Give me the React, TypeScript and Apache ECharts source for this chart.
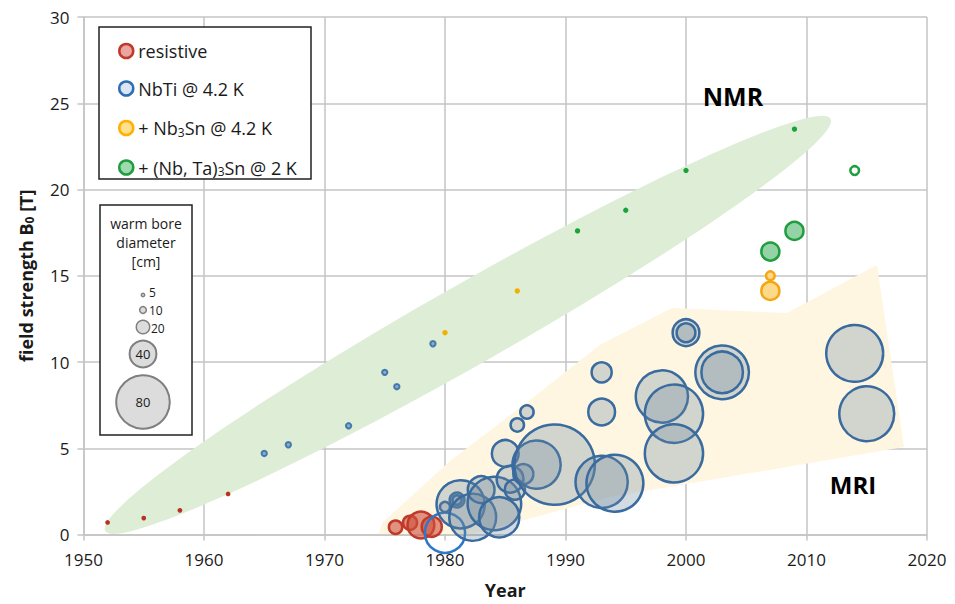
import React, { useEffect, useRef } from "react";
import * as echarts from "echarts";

// [year, field strength B0 (T), warm bore diameter (cm)]
const resistiveNmr = [[1952, 0.7, 7], [1955, 0.95, 7], [1958, 1.4, 7], [1962, 2.35, 7]];
const resistiveMri = [[1975.9, 0.42, 20], [1977.1, 0.68, 21], [1978.0, 0.55, 40], [1978.9, 0.45, 30]];
const nbtiNmr = [[1965, 4.7, 8], [1967, 5.2, 8], [1972, 6.3, 8], [1975, 9.4, 8], [1976, 8.57, 8], [1979, 11.06, 8]];
const nbtiMri = [
  [1980.0, 1.6, 15], [1981.0, 2.0, 22], [1981.0, 2.0, 14], [1981.3, 1.75, 72], [1982.3, 1.0, 70],
  [1983.0, 2.6, 40], [1984.1, 1.8, 80], [1984.5, 1.0, 60], [1985.0, 4.7, 40], [1985.4, 3.2, 40],
  [1985.8, 2.6, 30], [1986.0, 6.35, 20], [1986.8, 7.1, 20], [1986.5, 3.5, 30], [1987.6, 4.05, 72],
  [1989.1, 4.05, 120], [1993.0, 9.4, 30], [1993.0, 7.1, 40], [1993.0, 3.05, 78], [1994.1, 2.97, 85],
  [1998.0, 8.0, 78], [1999.0, 7.0, 87], [1999.0, 4.7, 87], [2000.0, 11.7, 40], [2000.0, 11.7, 28],
  [2003.0, 9.4, 80], [2003.0, 9.4, 62], [2014.0, 10.5, 85], [2015.0, 7.0, 82],
];
const nbtiRing = [[1980.0, 0.1, 60]];
const nb3snNmr = [[1980, 11.7, 8], [1986, 14.12, 8]];
const nb3snMri = [[2007, 15.0, 13], [2007, 14.12, 27]];
const ntsNmr = [[1991, 17.6, 8], [1995, 18.8, 8], [2000, 21.1, 8], [2009, 23.5, 8]];
const ntsOpen = [[2014, 21.1, 13]];
const ntsMri = [[2007, 16.4, 27], [2009, 17.6, 27]];

const seriesNames = ["resistive", "NbTi @ 4.2 K", "+ Nb3Sn @ 4.2 K", "+ (Nb, Ta)3Sn @ 2 K"];
const legendLabels = ["resistive", "NbTi @ 4.2 K", "+ Nb{s|3}Sn @ 4.2 K", "+ (Nb, Ta){s|3}Sn @ 2 K"];
const boreLegend = [5, 10, 20, 40, 80];
const xTicks = { min: 1950, max: 2020, interval: 10 };
const yTicks = { min: 0, max: 30, interval: 5 };

// background regions (data coordinates)
const nmrBandEnds = [[1951.8, 0.2], [2012.0, 24.1]];
const mriBand = [
  [1974.44, 0], [1974.85, 0.72], [1980.42, 4.26], [1987.05, 7.8], [1992.86, 11.0], [1998.83, 13.13],
  [2008.38, 12.84], [2015.85, 15.62], [2018.09, 5.07], [1993.69, 2.17], [1982.07, 0],
];

const PX_PER_CM = 0.67;
const FONT = "'Open Sans', 'Noto Sans', sans-serif";

const RED = "#b9321f";
const BLUE = "#3a6b9f";
const ORANGE = "#f3a712";
const GREEN = "#1f9d3f";

export default function App() {
  const ref = useRef<HTMLDivElement>(null);
  useEffect(() => {
    if (!ref.current) return;
    const chart = echarts.init(ref.current, undefined, { renderer: "svg" });
    const sizeFn = (v: number[]) => v[2] * PX_PER_CM;

    const dots = (name: string, data: number[][], color: string, z = 5) => ({
      type: "scatter", name, data, symbolSize: sizeFn, z,
      itemStyle: { color, opacity: 1 },
    });
    const bubbles = (name: string, data: number[][], fill: string, stroke: string, bw = 2.5, z = 3) => ({
      type: "scatter", name, data, symbolSize: sizeFn, z,
      itemStyle: { color: fill, borderColor: stroke, borderWidth: bw, opacity: 1 },
    });

    const gridLine = { color: "#c4c4c4", width: 1.5 };
    const boreY = [295, 310, 327, 354, 402];
    const boreLabelY = [292.5, 310.5, 328, 354, 402];
    const boreLabelX = [149, 149, 151];

    const option: any = {
      animation: false,
      grid: { left: 83.5, top: 17, right: 28, bottom: 69.5 },
      xAxis: {
        type: "value", ...xTicks,
        name: "Year", nameLocation: "middle", nameGap: 46,
        nameTextStyle: { fontFamily: FONT, fontSize: 18, fontWeight: "bold", color: "#1a1a1a" },
        axisLine: { show: true, lineStyle: gridLine },
        axisTick: { show: true, length: 6, lineStyle: gridLine },
        splitLine: { show: true, lineStyle: gridLine },
        axisLabel: { fontFamily: FONT, fontSize: 17, color: "#1a1a1a", margin: 16, formatter: (v: number) => String(v) },
      },
      yAxis: {
        type: "value", ...yTicks,
        name: "{a|field strength B}{s|0}{a| [T]}", nameLocation: "middle", nameGap: 48,
        nameTextStyle: {
          fontFamily: FONT, fontSize: 18, fontWeight: "bold", color: "#1a1a1a",
          rich: {
            a: { fontFamily: FONT, fontSize: 18, fontWeight: "bold", color: "#1a1a1a" },
            s: { fontFamily: FONT, fontSize: 12, fontWeight: "bold", color: "#1a1a1a", verticalAlign: "bottom", padding: [8, 0, 0, 0] },
          },
        },
        axisLine: { show: true, lineStyle: gridLine },
        axisTick: { show: true, length: 6, lineStyle: gridLine },
        splitLine: { show: true, lineStyle: gridLine },
        axisLabel: { fontFamily: FONT, fontSize: 17, color: "#1a1a1a", margin: 14 },
      },
      legend: {
        left: 113, top: 36, orient: "vertical", itemGap: 17.5, z: 30,
        itemWidth: 14, itemHeight: 14, icon: "circle",
        formatter: (n: string) => legendLabels[seriesNames.indexOf(n)],
        textStyle: {
          fontFamily: FONT, fontSize: 18, color: "#1a1a1a", lineHeight: 20,
          rich: {
            s: { fontFamily: FONT, fontSize: 12, color: "#1a1a1a", verticalAlign: "bottom", lineHeight: 12, padding: [10, 0, 0, 0] },
          },
        },
        data: [
          { name: seriesNames[0], itemStyle: { color: "#e9a6a0", borderColor: "#c0392b", borderWidth: 2.5 } },
          { name: seriesNames[1], itemStyle: { color: "#dbe6f2", borderColor: "#2f6db5", borderWidth: 2.5 } },
          { name: seriesNames[2], itemStyle: { color: "#ffe08f", borderColor: "#ffb000", borderWidth: 2.5 } },
          { name: seriesNames[3], itemStyle: { color: "#9fd9b0", borderColor: "#1f9d3f", borderWidth: 2.5 } },
        ],
      },
      series: [
        {
          type: "custom", coordinateSystem: "cartesian2d", z: 0, silent: true,
          data: [[1990, 10]],
          renderItem: (_p: any, api: any) => {
            const p1 = api.coord(nmrBandEnds[0]);
            const p2 = api.coord(nmrBandEnds[1]);
            const cx = (p1[0] + p2[0]) / 2, cy = (p1[1] + p2[1]) / 2;
            const dx = p2[0] - p1[0], dy = p2[1] - p1[1];
            const a = Math.hypot(dx, dy) / 2, b = 40, ang = Math.atan2(dy, dx);
            const pts: number[][] = [];
            for (let i = 0; i < 120; i++) {
              const t = (2 * Math.PI * i) / 120;
              const ex = a * Math.cos(t), ey = b * Math.sin(t);
              pts.push([cx + ex * Math.cos(ang) - ey * Math.sin(ang), cy + ex * Math.sin(ang) + ey * Math.cos(ang)]);
            }
            const yellow = mriBand.map((p) => api.coord(p));
            return {
              type: "group",
              children: [
                { type: "polygon", shape: { points: pts }, style: { fill: "#deedd6" } },
                { type: "polygon", shape: { points: yellow }, style: { fill: "#fef6e1" } },
              ],
            };
          },
        },
        bubbles(seriesNames[0], resistiveMri, "rgba(205,80,60,0.6)", "#c0392b", 2.5, 3),
        bubbles(seriesNames[1], nbtiRing, "rgba(255,255,255,0)", "#2f78c8", 2.5, 3),
        bubbles(seriesNames[1], nbtiMri, "rgba(110,135,160,0.3)", BLUE, 2.5, 3),
        bubbles(seriesNames[2], nb3snMri, "#ffd98a", ORANGE, 2.5, 4),
        bubbles(seriesNames[3], ntsMri, "#93d3a5", GREEN, 2.5, 4),
        bubbles(seriesNames[3], ntsOpen, "#ffffff", GREEN, 2.5, 4),
        dots(seriesNames[0], resistiveNmr, RED),
        { ...dots(seriesNames[1], nbtiNmr, "#3c7cb8"), itemStyle: { color: "#6f9cc8", borderColor: "#2a64a0", borderWidth: 2 } },
        dots(seriesNames[2], nb3snNmr, "#f0b000"),
        dots(seriesNames[3], ntsNmr, "#1aa33a"),
      ],
      graphic: [
        { type: "rect", shape: { x: 99, y: 27, width: 212, height: 152 }, style: { fill: "#fff", stroke: "#222", lineWidth: 1.5 }, z: 10 },
        { type: "rect", shape: { x: 100, y: 205, width: 92, height: 230 }, style: { fill: "#fff", stroke: "#222", lineWidth: 1.5 }, z: 10 },
        { type: "text", x: 146, y: 223, style: { text: "warm bore", fontFamily: FONT, fontSize: 14, fill: "#1a1a1a", align: "center", verticalAlign: "middle" }, z: 11 },
        { type: "text", x: 146, y: 242, style: { text: "diameter", fontFamily: FONT, fontSize: 14, fill: "#1a1a1a", align: "center", verticalAlign: "middle" }, z: 11 },
        { type: "text", x: 146, y: 261, style: { text: "[cm]", fontFamily: FONT, fontSize: 14, fill: "#1a1a1a", align: "center", verticalAlign: "middle" }, z: 11 },
        ...boreLegend.map((d, i) => ({
          type: "circle", shape: { cx: 143, cy: boreY[i], r: (d * PX_PER_CM) / 2 },
          style: { fill: "#dcdcdc", stroke: "#7f7f7f", lineWidth: d >= 40 ? 2 : 1.5 }, z: 11,
        })),
        ...boreLegend.map((d, i) => {
          const big = d >= 40;
          return {
            type: "text", x: big ? 143 : boreLabelX[i], y: boreLabelY[i],
            style: { text: String(d), fontFamily: FONT, fontSize: big ? 13 : 12, lineHeight: 12, fill: "#1a1a1a", align: big ? "center" : "left", verticalAlign: "middle" },
            z: 12,
          };
        }),
        { type: "text", x: 733, y: 96, style: { text: "NMR", fontFamily: FONT, fontSize: 25, fontWeight: "bold", fill: "#000", align: "center", verticalAlign: "middle" }, z: 12 },
        { type: "text", x: 853, y: 484, style: { text: "MRI", fontFamily: FONT, fontSize: 24, fontWeight: "bold", fill: "#000", align: "center", verticalAlign: "middle" }, z: 12 },
      ],
    };
    chart.setOption(option);
    return () => chart.dispose();
  }, []);
  return <div ref={ref} style={{ position: "fixed", left: 0, top: 0, width: 955, height: 604, background: "#fff" }} />;
}
